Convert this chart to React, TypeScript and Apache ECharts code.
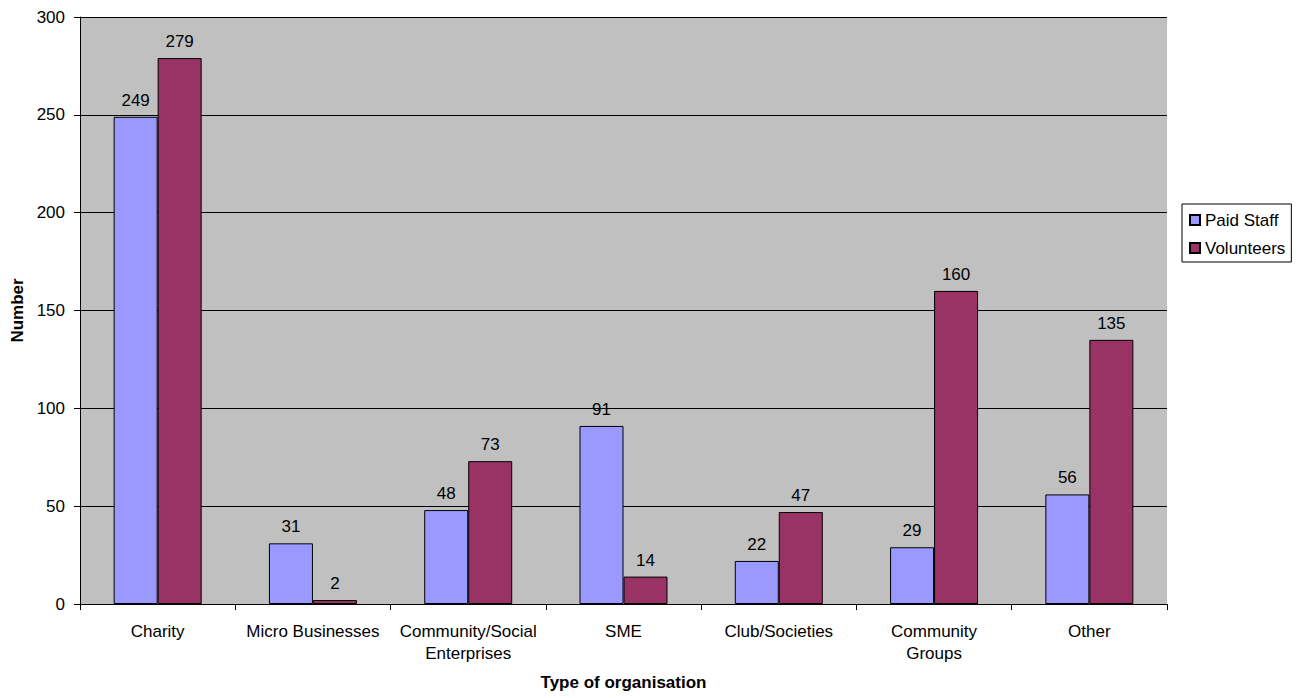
import React, { useEffect, useRef } from "react";
import * as echarts from "echarts";

const categories = [
  "Charity",
  "Micro Businesses",
  "Community/Social\nEnterprises",
  "SME",
  "Club/Societies",
  "Community\nGroups",
  "Other",
];
const paidStaff = [249, 31, 48, 91, 22, 29, 56];
const volunteers = [279, 2, 73, 14, 47, 160, 135];
const yTicks = { min: 0, max: 300, interval: 50 };

export default function App() {
  const ref = useRef<HTMLDivElement>(null);
  useEffect(() => {
    if (!ref.current) return;
    const chart = echarts.init(ref.current, undefined, { renderer: "svg" });
    const font = "Liberation Sans, Arial, sans-serif";
    const fs = 17;
    chart.setOption({
      animation: false,
      backgroundColor: "#ffffff",
      textStyle: { fontFamily: font },
      grid: {
        left: 80,
        right: 132,
        top: 17,
        bottom: 94,
        show: true,
        backgroundColor: "#c0c0c0",
        borderWidth: 0,
      },
      legend: {
        orient: "vertical",
        left: 1182,
        top: 204,
        itemWidth: 10,
        itemHeight: 10,
        itemGap: 8,
        padding: [6, 6, 4, 7],
        borderColor: "#000",
        borderWidth: 1,
        backgroundColor: "#fff",
        icon: "rect",
        textStyle: { fontSize: fs, lineHeight: 20, color: "#000", fontFamily: font, padding: [0, 0, 0, 0] },
        data: ["Paid Staff", "Volunteers"],
      },
      xAxis: {
        type: "category",
        data: categories,
        name: "Type of organisation",
        nameLocation: "middle",
        nameGap: 70,
        nameTextStyle: { fontWeight: "bold", fontSize: fs, color: "#000" },
        axisLine: { lineStyle: { color: "#000", width: 1 } },
        axisTick: { show: true, length: 6, lineStyle: { color: "#000" } },
        axisLabel: { color: "#000", fontSize: fs, margin: 16, lineHeight: 22, interval: 0 },
      },
      yAxis: {
        type: "value",
        min: yTicks.min,
        max: yTicks.max,
        interval: yTicks.interval,
        name: "Number",
        nameLocation: "middle",
        nameGap: 54,
        nameTextStyle: { fontWeight: "bold", fontSize: fs, color: "#000" },
        axisLine: { show: true, lineStyle: { color: "#000", width: 1 } },
        axisTick: { show: true, length: 6, lineStyle: { color: "#000" } },
        axisLabel: { color: "#000", fontSize: fs, margin: 15 },
        splitLine: { show: true, lineStyle: { color: "#000", width: 1 } },
      },
      series: [
        {
          name: "Paid Staff",
          type: "bar",
          data: paidStaff,
          barWidth: 44,
          barGap: "0%",
          itemStyle: { color: "#9999ff", borderColor: "#000", borderWidth: 1 },
          label: { show: true, position: "top", distance: 8, color: "#000", fontSize: fs },
        },
        {
          name: "Volunteers",
          type: "bar",
          data: volunteers,
          barWidth: 44,
          barGap: "0%",
          itemStyle: { color: "#993366", borderColor: "#000", borderWidth: 1 },
          label: { show: true, position: "top", distance: 8, color: "#000", fontSize: fs },
        },
      ],
    });
    return () => chart.dispose();
  }, []);
  return (
    <div
      ref={ref}
      style={{ position: "fixed", left: 0, top: 0, width: 1299, height: 698 }}
    />
  );
}
